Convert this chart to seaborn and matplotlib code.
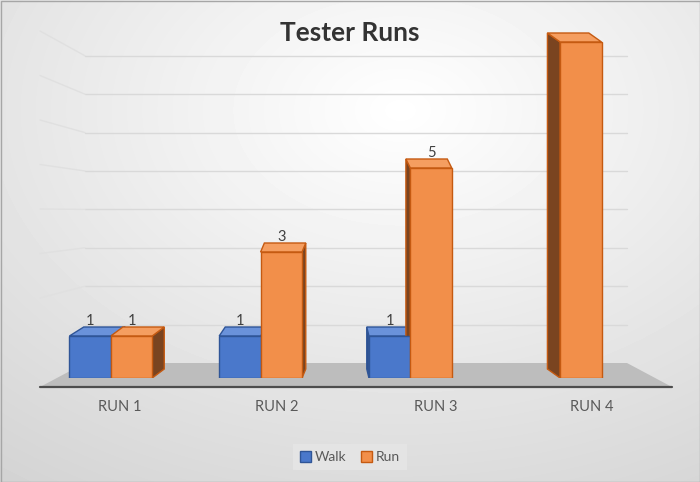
import numpy as np
import pandas as pd
import matplotlib
matplotlib.use("Agg")
import matplotlib.pyplot as plt
import seaborn as sns
from matplotlib.patches import Polygon, Patch, Rectangle
from matplotlib.transforms import ScaledTranslation

# data
runs = ["RUN 1", "RUN 2", "RUN 3", "RUN 4"]
walk = [1, 1, 1, 0]
run = [1, 3, 5, 8]
# the reference shows no number over the tallest bar
show_walk_label = [True, True, True, False]
show_run_label = [True, True, True, False]

df = pd.DataFrame({
    "run": runs * 2,
    "mode": ["Walk"] * 4 + ["Run"] * 4,
    "value": walk + run,
})

sns.set_style("white")
plt.rcParams["font.family"] = ["Lato", "DejaVu Sans"]

fig = plt.figure(figsize=(7, 4.82), dpi=100)

# background: soft grey radial gradient, floor and back-wall grid
bg = fig.add_axes([0, 0, 1, 1], zorder=0)
bg.set_xlim(0, 700)
bg.set_ylim(482, 0)
bg.axis("off")
yy, xx = np.mgrid[0:482, 0:700]
r = np.hypot((xx - 400) / 700, (yy - 110) / 482)
bg.imshow(1 - 0.18 * r, cmap="gray", vmin=0, vmax=1,
          extent=(0, 700, 482, 0), aspect="auto", zorder=0)

for v in range(1, 9):
    yb = 363 - 38.4 * v
    yl = 387 - 44.5 * v
    bg.plot([85, 627], [yb, yb], color="#d9d9d9", lw=1, zorder=1)
    bg.plot([40, 85], [yl, yb], color="#e0e0e0", lw=1, zorder=1)

bg.add_patch(Polygon([(40, 387), (672, 387), (627, 363), (85, 363)],
                     closed=True, facecolor="#bdbdbd", edgecolor="none", zorder=2))
bg.plot([40, 672], [387, 387], color="#4d4d4d", lw=1.6, zorder=3)
bg.add_patch(Rectangle((0.5, 0.5), 699, 481, fill=False, edgecolor="#a6a6a6", lw=1, zorder=4))

# bars
ax = fig.add_axes([40 / 700, 104 / 482, 620 / 700, 357 / 482], zorder=1)
ax.patch.set_alpha(0)
sns.barplot(data=df, x="run", y="value", hue="mode", hue_order=["Walk", "Run"],
            palette={"Walk": "#4A78CB", "Run": "#F28F4A"}, saturation=1,
            width=0.553, gap=0, legend=False, ax=ax)
ax.set_xlim(-0.473, 3.667)
ax.set_ylim(0, 8.5)
ax.set_axis_off()

styles = {
    0: dict(edge="#2F5597", top="#6a92da", side="#2c4f8f"),
    1: dict(edge="#C55A11", top="#F59E60", side="#7a4420"),
}
masks = {0: show_walk_label, 1: show_run_label}
inv = ax.transData.inverted()

for k, cont in enumerate(ax.containers):
    st = styles[k]
    for i, bar in enumerate(cont):
        h = bar.get_height()
        if h == 0:
            bar.set_visible(False)
            continue
        x0 = bar.get_x()
        w = bar.get_width()
        bar.set_edgecolor(st["edge"])
        bar.set_linewidth(1)
        bar.set_zorder(3)
        (x0p, y0p) = ax.transData.transform((x0, 0))
        (x1p, y1p) = ax.transData.transform((x0 + w, h))
        cx = (x0p + x1p) / 2
        dx = -0.055 * (cx - 350)
        dy = 9
        top = [(x0p, y1p), (x1p, y1p), (x1p + dx, y1p + dy), (x0p + dx, y1p + dy)]
        xs = x1p if dx > 0 else x0p
        side = [(xs, y0p), (xs, y1p), (xs + dx, y1p + dy), (xs + dx, y0p + dy)]
        ax.add_patch(Polygon(inv.transform(side), closed=True, facecolor=st["side"],
                             edgecolor=st["edge"], lw=1, zorder=2))
        ax.add_patch(Polygon(inv.transform(top), closed=True, facecolor=st["top"],
                             edgecolor=st["edge"], lw=1, zorder=2))
        if masks[k][i]:
            ax.annotate(f"{h:g}", (x0 + w / 2, h), xytext=(0, 11),
                        textcoords="offset points", ha="center", va="center",
                        fontsize=10.5, color="#404040")

# category labels (shifted right a little, as in the perspective view)
label_shift = [9, 16, 25, 32]
for i, name in enumerate(runs):
    tr = ax.get_xaxis_transform() + ScaledTranslation(label_shift[i] / 100, -29 / 100,
                                                      fig.dpi_scale_trans)
    ax.text(i, 0, name, transform=tr, ha="center", va="center",
            fontsize=10.5, color="#595959", clip_on=False)

fig.text(0.5, 1 - 33 / 482, "Tester Runs", ha="center", va="center",
         fontsize=19, fontweight="bold", color="#333333")

handles = [Patch(facecolor="#4A78CB", edgecolor="#2F5597", label="Walk"),
           Patch(facecolor="#F28F4A", edgecolor="#C55A11", label="Run")]
leg = fig.legend(handles=handles, loc="center", bbox_to_anchor=(0.5, 25 / 482),
                 ncol=2, frameon=True, fontsize=10, handlelength=0.8, handleheight=0.8,
                 handletextpad=0.3, columnspacing=1.0, borderpad=0.5, fancybox=False)
leg.get_frame().set_facecolor("#e6e6e6")
leg.get_frame().set_edgecolor("none")
for t in leg.get_texts():
    t.set_color("#595959")

fig.savefig("out.png", dpi=100)
